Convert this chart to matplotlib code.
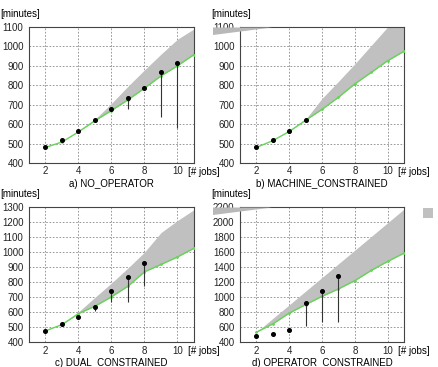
import numpy as np
import matplotlib
matplotlib.use("Agg")
import matplotlib.pyplot as plt
from matplotlib.patches import Polygon

plt.rcParams['font.family'] = ['Liberation Sans', 'DejaVu Sans']

# x positions of the model curves (number of jobs)
x_curve = [2, 3, 4, 5, 6, 7, 8, 9, 10, 11]

# a) NO_OPERATOR
a_pts_x = [2, 3, 4, 5, 6, 7, 8, 9, 10]
a_pts_y = [480, 518, 565, 620, 678, 732, 784, 867, 915]
a_err_x = [7, 9, 10]
a_err_top = [732, 867, 915]
a_err_low = [676, 635, 580]
a_green = [480, 508, 560, 618, 670, 725, 785, 848, 900, 958]
a_upper = [480, 508, 560, 625, 707, 795, 879, 960, 1037, 1090]

# b) MACHINE_CONSTRAINED
b_pts_x = [2, 3, 4, 5]
b_pts_y = [480, 518, 565, 620]
b_err_x = []
b_err_top = []
b_err_low = []
b_green = [480, 515, 562, 620, 676, 738, 807, 866, 926, 975]
b_upper = [480, 515, 562, 625, 732, 820, 910, 1005, 1100, 1200]

# c) DUAL_CONSTRAINED
c_pts_x = [2, 3, 4, 5, 6, 7, 8]
c_pts_y = [478, 520, 566, 635, 742, 835, 927]
c_err_x = [5, 6, 7, 8]
c_err_top = [635, 742, 835, 927]
c_err_low = [612, 668, 672, 775]
c_green = [477, 519, 592, 641, 703, 774, 869, 918, 968, 1026]
c_upper = [477, 519, 603, 700, 795, 895, 1000, 1130, 1210, 1282]

# d) OPERATOR_CONSTRAINED
d_pts_x = [2, 3, 4, 5, 6, 7]
d_pts_y = [480, 516, 564, 925, 1085, 1284]
d_err_x = [5, 6, 7]
d_err_top = [925, 1085, 1284]
d_err_low = [616, 674, 674]
d_green = [537, 647, 790, 903, 1013, 1111, 1221, 1357, 1476, 1587]
d_upper = [537, 720, 900, 1082, 1263, 1445, 1626, 1808, 1990, 2172]

panels = [
    ("a) NO_OPERATOR", a_pts_x, a_pts_y, a_err_x, a_err_top, a_err_low,
     a_green, a_upper, (400, 1100), 100),
    ("b) MACHINE_CONSTRAINED", b_pts_x, b_pts_y, b_err_x, b_err_top, b_err_low,
     b_green, b_upper, (400, 1100), 100),
    ("c) DUAL_CONSTRAINED", c_pts_x, c_pts_y, c_err_x, c_err_top, c_err_low,
     c_green, c_upper, (400, 1300), 100),
    ("d) OPERATOR_CONSTRAINED", d_pts_x, d_pts_y, d_err_x, d_err_top, d_err_low,
     d_green, d_upper, (400, 2200), 200),
]

# axes positions in figure fraction [left, bottom, width, height]
positions = [
    [0.0662, 0.5559, 0.3767, 0.3706],
    [0.5480, 0.5559, 0.3744, 0.3706],
    [0.0662, 0.0668, 0.3767, 0.3692],
    [0.5480, 0.0668, 0.3744, 0.3692],
]

fig = plt.figure(figsize=(4.38, 3.67), dpi=100)

for pos, (title, px, py, ex, etop, elow, green, upper, ylim, ystep) in zip(positions, panels):
    ax = fig.add_axes(pos)
    ax.set_xlim(1, 11)
    ax.set_ylim(*ylim)

    ax.fill_between(x_curve, green, upper, color='#c0c0c0', lw=0, zorder=2)
    ax.plot(x_curve, green, color='#66d457', lw=1.0, marker='o', markersize=1.0, zorder=3)
    ax.vlines(ex, elow, etop, color='#333333', lw=0.8, zorder=4)
    ax.plot(px, py, 'o', color='black', markersize=2.6, zorder=5)

    ax.set_xticks([2, 4, 6, 8, 10])
    ax.set_yticks(np.arange(ylim[0], ylim[1] + 1, ystep))
    ax.grid(True, color='#888888', linestyle=(0, (2, 2)), lw=0.6, zorder=0)
    ax.set_axisbelow(True)
    ax.tick_params(length=0, labelsize=7, colors='#222222')
    ax.tick_params(axis='x', pad=2.5)
    ax.tick_params(axis='y', pad=4)
    for s in ax.spines.values():
        s.set_color('#444444')
        s.set_linewidth(0.8)

    ax.text(-0.176, 1.095, "[minutes]", transform=ax.transAxes,
            ha='left', va='center', fontsize=7)
    ax.text(0.962, -0.066, "[# jobs]", transform=ax.transAxes,
            ha='left', va='center', fontsize=7)
    ax.text(0.5, -0.152, title, transform=ax.transAxes,
            ha='center', va='center', fontsize=7)

# small grey rendering remnants seen in the original figure
w, h = 438, 367
for y0 in (27.5, 207.5):
    fig.patches.append(Polygon([(213 / w, 1 - y0 / h), (272 / w, 1 - y0 / h),
                                (213 / w, 1 - (y0 + 7.5) / h)],
                               closed=True, transform=fig.transFigure,
                               facecolor='#b8b8b8', edgecolor='none'))
fig.patches.append(Polygon([(423 / w, 1 - 208 / h), (433 / w, 1 - 208 / h),
                            (433 / w, 1 - 218 / h), (423 / w, 1 - 218 / h)],
                           closed=True, transform=fig.transFigure,
                           facecolor='#c0c0c0', edgecolor='none'))

fig.savefig("out.png", dpi=100)
